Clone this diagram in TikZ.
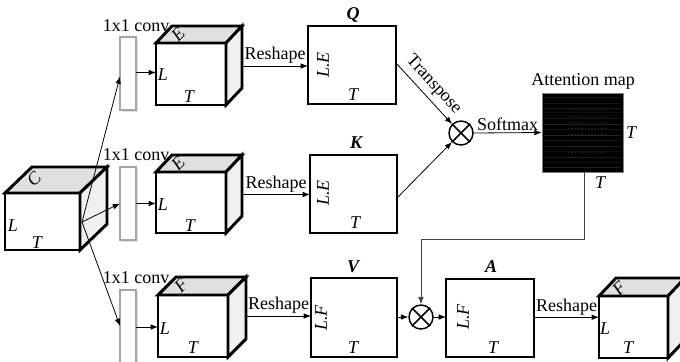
\documentclass[tikz,border=0pt]{standalone}
\usepackage{fontspec}
\setmainfont{Liberation Serif}
\usetikzlibrary{arrows.meta,calc}
\definecolor{topgray}{RGB}{224,224,224}
\definecolor{sidegray}{RGB}{240,240,240}
\definecolor{bargray}{RGB}{165,165,165}
\newcommand\mycube[7]{%
  \node[front, minimum width={(#4-#2)*0.75pt}, minimum height={(#5-#3)*0.75pt}] (#1) at ({(#2+#4)/2},{(#3+#5)/2}) {};
  \draw[edge, fill=topgray] (#1.north west) -- ++(#6,-#7) -- ($(#1.north east)+(#6,-#7)$) -- (#1.north east) -- cycle;
  \draw[edge, fill=sidegray] (#1.north east) -- ++(#6,-#7) -- ($(#1.south east)+(#6,-#7)$) -- (#1.south east) -- cycle;
  \draw[edge] (#1.north west) rectangle (#1.south east);
}
\newcommand\mybox[5]{%
  \node[mat, minimum width={(#4-#2)*0.75pt}, minimum height={(#5-#3)*0.75pt}] (#1) at ({(#2+#4)/2},{(#3+#5)/2}) {};
}
\newcommand\mybar[5]{%
  \fill[black!12] ({#2+2},{#3+2}) rectangle ({#4+2},{#5+2});
  \node[bar, minimum width={(#4-#2)*0.75pt}, minimum height={(#5-#3)*0.75pt}] (#1) at ({(#2+#4)/2},{(#3+#5)/2}) {};
}
\begin{document}
\begin{tikzpicture}[x=0.75pt,y=-0.75pt,
  every node/.style={font=\fontsize{13.5pt}{15pt}\selectfont},
  edge/.style={line width=2.2pt, line join=miter},
  front/.style={draw, line width=2.2pt, fill=white, inner sep=0pt, outer sep=0pt},
  mat/.style={draw, line width=2.2pt, fill=white, inner sep=0pt, outer sep=0pt},
  bar/.style={draw=bargray, line width=1.1pt, fill=white, inner sep=0pt, outer sep=0pt},
  arr/.style={-{Latex[length=5.5pt,width=4.2pt]}, line width=0.6pt},
  lab/.style={inner sep=0pt, font=\fontsize{13.5pt}{15pt}\selectfont\itshape},
  blab/.style={inner sep=0pt, font=\fontsize{13.5pt}{15pt}\selectfont\bfseries\itshape},
  txt/.style={inner sep=0pt, anchor=base},
  otim/.style={circle, draw, line width=1.1pt, minimum size=18pt, inner sep=0pt, fill=white}
]
\useasboundingbox (0,0) rectangle (680,361);

% ---- input cube
\mycube{cin}{5}{193}{80}{250}{27}{26}
\node[lab, rotate=45] (cinC) at (34,179) {C};
\node[lab] (cinL) at (13,226) {L};
\node[lab] (cinT) at (37,243) {T};

% ---- conv bars
\mybar{bar1}{120}{37}{136}{110}
\mybar{bar2}{120}{167}{136}{240}
\mybar{bar3}{120}{290}{136}{366}
\node[txt] (conv1) at (136,31) {1x1 conv};
\node[txt] (conv2) at (136,160) {1x1 conv};
\node[txt] (conv3) at (136,283) {1x1 conv};

% ---- feature cubes
\mycube{c1}{156}{43}{226}{105}{16}{17}
\node[lab, rotate=45] (c1E) at (178,34) {E};
\node[lab] (c1L) at (163,75) {L};
\node[lab] (c1T) at (189,97) {T};

\mycube{c2}{156}{172}{226}{233}{16}{17}
\node[lab, rotate=45] (c2E) at (178,163) {E};
\node[lab] (c2L) at (163,205) {L};
\node[lab] (c2T) at (190,226) {T};

\mycube{c3}{158}{295}{228}{357}{18}{18}
\node[lab, rotate=45] (c3F) at (181,285) {F};
\node[lab] (c3L) at (165,329) {L};
\node[lab] (c3T) at (193,348) {T};

% ---- Q K V boxes
\mybox{Q}{308}{26}{396}{104}
\node[blab] (Qt) at (353,15) {Q};
\node[lab, rotate=90] (QLE) at (323,65) {L.E};
\node[lab] (QT) at (353,95) {T};

\mybox{K}{310}{155}{397}{233}
\node[blab] (Kt) at (356,143) {K};
\node[lab, rotate=90] (KLE) at (323,193) {L.E};
\node[lab] (KT) at (355,223) {T};

\mybox{V}{311}{278}{397}{357}
\node[blab] (Vt) at (353,267) {V};
\node[lab, rotate=90] (VLF) at (321,318) {L.F};
\node[lab] (VT) at (353,348) {T};

% ---- A box
\mybox{A}{446}{279}{534}{357}
\node[blab] (At) at (491,267) {A};
\node[lab, rotate=90] (ALF) at (463,317) {L.F};
\node[lab] (AT) at (493,348) {T};

% ---- output cube
\mycube{cout}{599}{296}{668}{358}{17}{18}
\node[lab, rotate=45] (coF) at (619,288) {F};
\node[lab] (coL) at (605,329) {L};
\node[lab] (coT) at (628,348) {T};

% ---- otimes
\node[otim] (ot1) at (461,133) {};
\draw[line width=1.1pt] (ot1.north west) -- (ot1.south east) (ot1.north east) -- (ot1.south west);
\node[otim] (ot2) at (421,317) {};
\draw[line width=1.1pt] (ot2.north west) -- (ot2.south east) (ot2.north east) -- (ot2.south west);

% ---- attention map
\node[draw=gray, fill=black, line width=0.6pt, minimum width=60.75pt, minimum height=59.25pt, inner sep=0pt] (att) at (582.5,132.5) {};
\foreach \yy/\cc in {97/10,103/7,108/12,112/6,118/9,124/13,129/8,135/14,140/9,146/12,151/7,157/11,162/8,167/13}{
  \draw[draw=white!\cc!black, line width=0.35pt] (544,\yy) -- (621,\yy);
}
\foreach \yy in {110,116,122,128,134,140,146,152}{
  \draw[draw=white!14!black, line width=0.5pt, dash pattern=on 1pt off 1.5pt] (568,\yy) -- (608,\yy);
}
\node[txt] (attl) at (583,85) {Attention map};
\node[lab] (attT1) at (631,133) {T};
\node[lab] (attT2) at (600,183) {T};

% ---- connectors
\coordinate (src) at (82,222);
\draw[arr] (src) -- ([yshift=-2.25pt]bar1.west);
\draw[arr] (src) -- (bar2.west);
\draw[arr] (src) -- ([yshift=1.5pt]bar3.west);

\draw[arr] ([yshift=0.75pt]bar1.east) -- ([yshift=0.75pt]bar1.east -| c1.west);
\draw[arr] (bar2.east) -- (bar2.east -| c2.west);
\draw[arr] ([yshift=0.75pt]bar3.east) -- ([yshift=0.75pt]bar3.east -| c3.west);

\coordinate (s1) at ($(c1.east)+(16,-8)$);
\coordinate (s2) at ($(c2.east)+(16,-8)$);
\coordinate (s3) at ($(c3.east)+(18,-10)$);
\draw[arr] (s1) -- node[txt, above=1.5pt] (rs1) {Reshape} (s1 -| Q.west);
\draw[arr] (s2) -- node[txt, above=1.5pt] (rs2) {Reshape} (s2 -| K.west);
\draw[arr] (s3) -- node[txt, above=1.5pt] (rs3) {Reshape} (s3 -| V.west);

\coordinate (qo) at ($(Q.east)+(0,-2)$);
\draw[arr] (qo) -- node[inner sep=0pt, sloped, above=3.5pt] (tr) {Transpose} (ot1.north west);
\coordinate (ko) at ($(K.east)+(0,4)$);
\draw[arr] (ko) -- (ot1.south west);
\draw[arr] (ot1.east) -- node[txt, above=1.5pt] (sm) {Softmax} (att.west);

\coordinate (bend1) at (584,239);
\draw[arr, draw=black!75] (att.south -| bend1) -- (bend1) -- (bend1 -| ot2) -- (ot2.north);
\draw[arr] (V.east |- ot2) -- (ot2.west);
\draw[arr] (ot2.east) -- (A.west |- ot2);
\coordinate (ao) at ($(A.east)+(0,-0.75)$);
\draw[arr] (ao) -- node[txt, above=1.5pt] (rs4) {Reshape} (ao -| cout.west);
\end{tikzpicture}
\end{document}
